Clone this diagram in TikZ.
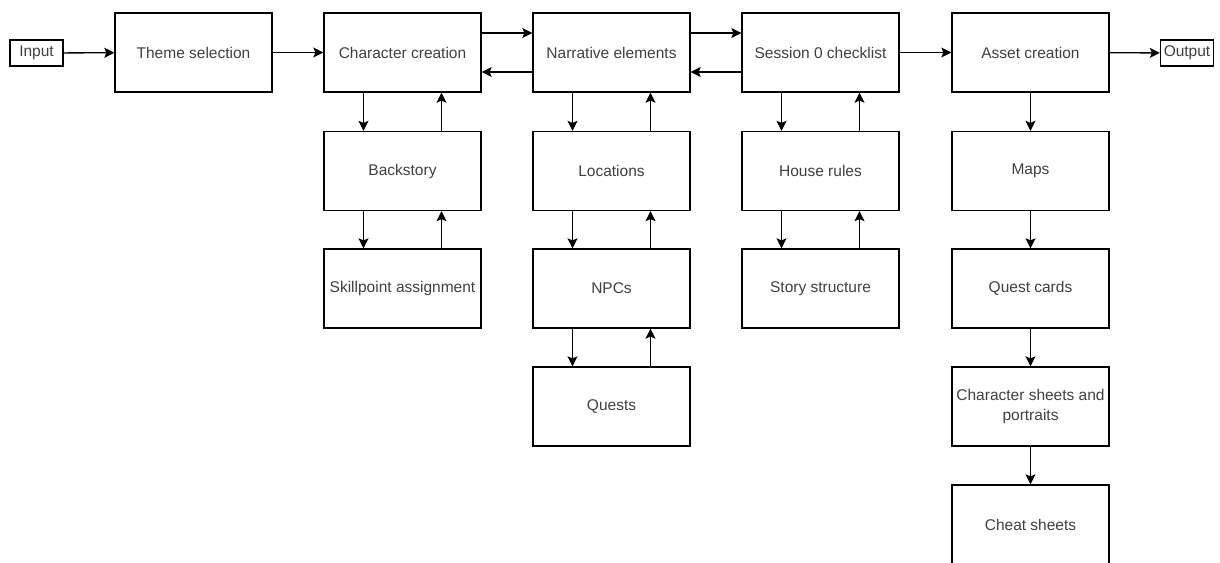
\documentclass[tikz,border=0pt]{standalone}
\usepackage{fontspec}
\setmainfont{Liberation Sans}
\usetikzlibrary{arrows.meta}
\definecolor{txt}{HTML}{404040}
\tikzset{
  box/.style={draw=black, line width=1.3pt, fill=white, minimum width=157pt,
    minimum height=79pt, inner sep=0pt, align=center, text=txt,
    font=\fontsize{15.5}{20}\selectfont},
  io/.style={draw=black, line width=1.3pt, fill=white, minimum width=53pt,
    minimum height=26pt, inner sep=0pt, text=txt,
    font=\fontsize{15.5}{20}\selectfont},
  arr/.style={line width=1.3pt, -{Stealth[length=10pt,width=10pt,inset=2pt]}},
}
\begin{document}
\begin{tikzpicture}[x=1pt,y=-1pt]
\useasboundingbox (0,0) rectangle (1220,562);
% top row
\node[io]  (in)   at (36.5,53)    {Input};
\node[box] (theme) at (193.5,52.5) {Theme selection};
\node[box] (chr)   at (402.5,52.5) {Character creation};
\node[box] (narr)  at (611.5,52.5) {Narrative elements};
\node[box] (sess)  at (820.5,52.5) {Session 0 checklist};
\node[box] (asset) at (1030.5,52.5) {Asset creation};
\node[io]  (out)   at (1187,53)    {Output};
% character column
\node[box] (back)  at (402.5,171)   {Backstory};
\node[box] (skill) at (402.5,288.5) {Skillpoint assignment};
% narrative column
\node[box] (loc)   at (611.5,171)   {Locations};
\node[box] (npc)   at (611.5,288.5) {NPCs};
\node[box] (quest) at (611.5,406.5) {Quests};
% session column
\node[box] (house) at (820.5,171)   {House rules};
\node[box] (story) at (820.5,288.5) {Story structure};
% asset column
\node[box] (maps)  at (1030.5,171)   {Maps};
\node[box] (cards) at (1030.5,288.5) {Quest cards};
\node[box] (sheet) at (1030.5,406.5) {Character sheets and\\portraits};
\node[box] (cheat) at (1030.5,524.5) {Cheat sheets};

% main flow
\draw[arr] (in) -- (theme);
\draw[arr] (theme) -- (chr);
\draw[arr] ([yshift=19.5pt]chr.east) -- ([yshift=19.5pt]narr.west);
\draw[arr] ([yshift=-19.5pt]narr.west) -- ([yshift=-19.5pt]chr.east);
\draw[arr] ([yshift=19.5pt]narr.east) -- ([yshift=19.5pt]sess.west);
\draw[arr] ([yshift=-19.5pt]sess.west) -- ([yshift=-19.5pt]narr.east);
\draw[arr] (sess) -- (asset);
\draw[arr] (asset) -- (out);

% two-way vertical links
\foreach \a/\b in {chr/back, back/skill, narr/loc, loc/npc, npc/quest, sess/house, house/story}{
  \draw[arr] ([xshift=-39pt]\a.south) -- ([xshift=-39pt]\b.north);
  \draw[arr] ([xshift=39pt]\b.north) -- ([xshift=39pt]\a.south);
}
% asset chain
\foreach \a/\b in {asset/maps, maps/cards, cards/sheet, sheet/cheat}{
  \draw[arr] (\a) -- (\b);
}
\end{tikzpicture}
\end{document}
